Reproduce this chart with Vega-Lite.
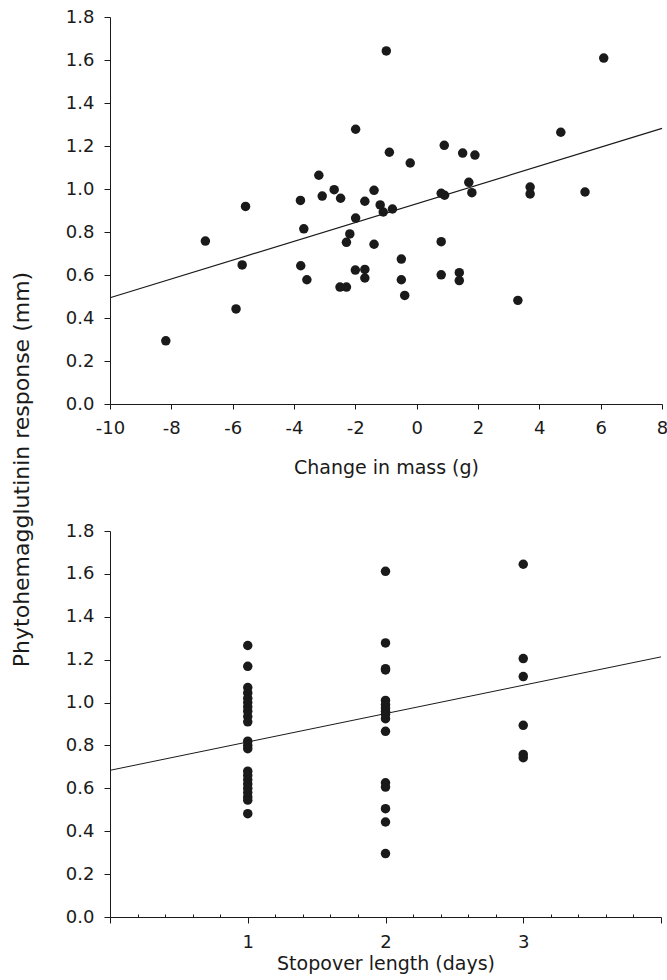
{
  "$schema": "https://vega.github.io/schema/vega-lite/v6.json",
  "background": "white",
  "padding": {"left": 10, "top": 8, "right": 5, "bottom": 5},
  "datasets": {
    "mass": [
      {"mass": -8.18, "pha": 0.294}, {"mass": -6.89, "pha": 0.758}, {"mass": -5.89, "pha": 0.442},
      {"mass": -5.69, "pha": 0.647}, {"mass": -5.58, "pha": 0.919}, {"mass": -3.79, "pha": 0.947},
      {"mass": -3.78, "pha": 0.643}, {"mass": -3.68, "pha": 0.815}, {"mass": -3.58, "pha": 0.578},
      {"mass": -3.19, "pha": 1.064}, {"mass": -3.08, "pha": 0.967}, {"mass": -2.69, "pha": 0.997},
      {"mass": -2.48, "pha": 0.957}, {"mass": -2.5, "pha": 0.544}, {"mass": -2.29, "pha": 0.544},
      {"mass": -2.29, "pha": 0.752}, {"mass": -2.18, "pha": 0.791}, {"mass": -1.99, "pha": 1.278},
      {"mass": -1.99, "pha": 0.865}, {"mass": -2.0, "pha": 0.623}, {"mass": -1.69, "pha": 0.943},
      {"mass": -1.69, "pha": 0.626}, {"mass": -1.69, "pha": 0.586}, {"mass": -1.39, "pha": 0.994},
      {"mass": -1.39, "pha": 0.743}, {"mass": -1.19, "pha": 0.926}, {"mass": -0.99, "pha": 1.642},
      {"mass": 6.1, "pha": 1.609}, {"mass": 4.7, "pha": 1.264}, {"mass": 0.9, "pha": 1.203},
      {"mass": -0.89, "pha": 1.171}, {"mass": 1.5, "pha": 1.167}, {"mass": 1.9, "pha": 1.158},
      {"mass": -0.21, "pha": 1.121}, {"mass": 1.7, "pha": 1.031}, {"mass": -1.09, "pha": 0.893},
      {"mass": -0.79, "pha": 0.907}, {"mass": 0.8, "pha": 0.98}, {"mass": 0.91, "pha": 0.971},
      {"mass": 1.8, "pha": 0.983}, {"mass": 3.7, "pha": 1.009}, {"mass": 3.7, "pha": 0.977},
      {"mass": 5.49, "pha": 0.986}, {"mass": 0.8, "pha": 0.755}, {"mass": -0.5, "pha": 0.674},
      {"mass": -0.5, "pha": 0.578}, {"mass": -0.39, "pha": 0.505}, {"mass": 0.8, "pha": 0.601},
      {"mass": 1.39, "pha": 0.611}, {"mass": 1.39, "pha": 0.574}, {"mass": 3.3, "pha": 0.482}
    ],
    "fit1": [{"mass": -10, "pha": 0.494}, {"mass": 8, "pha": 1.282}],
    "stop": [
      {"days": 1, "pha": 1.266}, {"days": 1, "pha": 1.169}, {"days": 1, "pha": 1.07}, {"days": 1, "pha": 1.045},
      {"days": 1, "pha": 1.02}, {"days": 1, "pha": 1.0}, {"days": 1, "pha": 0.98}, {"days": 1, "pha": 0.96},
      {"days": 1, "pha": 0.935}, {"days": 1, "pha": 0.91}, {"days": 1, "pha": 0.82}, {"days": 1, "pha": 0.8},
      {"days": 1, "pha": 0.785}, {"days": 1, "pha": 0.68}, {"days": 1, "pha": 0.66}, {"days": 1, "pha": 0.64},
      {"days": 1, "pha": 0.62}, {"days": 1, "pha": 0.6}, {"days": 1, "pha": 0.58}, {"days": 1, "pha": 0.56},
      {"days": 1, "pha": 0.545}, {"days": 1, "pha": 0.482},
      {"days": 2, "pha": 1.612}, {"days": 2, "pha": 1.278}, {"days": 2, "pha": 1.158}, {"days": 2, "pha": 1.152},
      {"days": 2, "pha": 1.01}, {"days": 2, "pha": 0.99}, {"days": 2, "pha": 0.975}, {"days": 2, "pha": 0.96},
      {"days": 2, "pha": 0.945}, {"days": 2, "pha": 0.925}, {"days": 2, "pha": 0.866}, {"days": 2, "pha": 0.626},
      {"days": 2, "pha": 0.606}, {"days": 2, "pha": 0.505}, {"days": 2, "pha": 0.443}, {"days": 2, "pha": 0.296},
      {"days": 3, "pha": 1.645}, {"days": 3, "pha": 1.205}, {"days": 3, "pha": 1.121}, {"days": 3, "pha": 0.894},
      {"days": 3, "pha": 0.758}, {"days": 3, "pha": 0.743}
    ],
    "fit2": [{"days": 0, "pha": 0.684}, {"days": 4, "pha": 1.213}]
  },
  "vconcat": [
    {
      "width": 552,
      "height": 387,
      "layer": [
        {
          "data": {"name": "fit1"},
          "mark": {"type": "line", "color": "#1a1a1a", "strokeWidth": 1.2},
          "encoding": {
            "x": {"field": "mass", "type": "quantitative"},
            "y": {"field": "pha", "type": "quantitative"}
          }
        },
        {
          "data": {"name": "mass"},
          "mark": {"type": "circle", "size": 90, "color": "#1a1a1a", "opacity": 1},
          "encoding": {
            "x": {
              "field": "mass", "type": "quantitative",
              "scale": {"domain": [-10, 8], "nice": false, "zero": false},
              "axis": {
                "title": "Change in mass (g)",
                "values": [-10, -8, -6, -4, -2, 0, 2, 4, 6, 8],
                "labelExpr": "replace(datum.label, '\u2212', '-')",
                "labelOverlap": false,
                "tickSize": 5, "labelPadding": 10, "titlePadding": 21
              }
            },
            "y": {
              "field": "pha", "type": "quantitative",
              "scale": {"domain": [0, 1.8], "nice": false},
              "axis": {
                "title": "Phytohemagglutinin response (mm)",
                "titleFontSize": 22,
                "values": [0, 0.2, 0.4, 0.6, 0.8, 1.0, 1.2, 1.4, 1.6, 1.8],
                "format": ".1f", "tickSize": 6, "labelPadding": 10, "labelOverlap": false,
                "titleX": -82, "titleY": 452, "titleBaseline": "alphabetic", "titleAngle": -90, "titleAlign": "center"
              }
            }
          }
        }
      ]
    },
    {
      "width": 551,
      "height": 386,
      "resolve": {"axis": {"x": "independent"}},
      "layer": [
        {
          "data": {"name": "fit2"},
          "mark": {"type": "line", "color": "#1a1a1a", "strokeWidth": 1},
          "encoding": {
            "x": {
              "field": "days", "type": "quantitative",
              "axis": {
                "orient": "bottom", "title": null, "domain": false, "labels": false,
                "values": [0.2, 0.4, 0.6, 0.8, 1.2, 1.4, 1.6, 1.8, 2.2, 2.4, 2.6, 2.8, 3.2, 3.4, 3.6, 3.8],
                "tickSize": -3
              }
            },
            "y": {"field": "pha", "type": "quantitative"}
          }
        },
        {
          "data": {"name": "stop"},
          "mark": {"type": "circle", "size": 90, "color": "#1a1a1a", "opacity": 1},
          "encoding": {
            "x": {
              "field": "days", "type": "quantitative",
              "scale": {"domain": [0, 4], "nice": false},
              "axis": {
                "orient": "bottom",
                "title": "Stopover length (days)",
                "values": [0, 1, 2, 3, 4],
                "labelExpr": "datum.value == 1 ? '1' : datum.value == 2 ? '2' : datum.value == 3 ? '3' : ''",
                "labelOverlap": false,
                "tickSize": 6,
                "labelPadding": 10, "titlePadding": 3
              }
            },
            "y": {
              "field": "pha", "type": "quantitative",
              "scale": {"domain": [0, 1.8], "nice": false},
              "axis": {"title": null, "values": [0, 0.2, 0.4, 0.6, 0.8, 1.0, 1.2, 1.4, 1.6, 1.8], "format": ".1f", "tickSize": 6, "labelPadding": 10, "labelOverlap": false}
            }
          }
        }
      ]
    }
  ],
  "spacing": 127,
  "bounds": "flush",
  "config": {
    "view": {"stroke": null},
    "axis": {
      "grid": false,
      "labelFont": "DejaVu Sans",
      "labelFontSize": 18,
      "labelColor": "#1a1a1a",
      "titleFont": "DejaVu Sans",
      "titleFontSize": 19,
      "titleFontWeight": "normal",
      "titleColor": "#1a1a1a",
      "domainColor": "#1a1a1a",
      "tickColor": "#1a1a1a",
      "domainWidth": 1,
      "tickWidth": 1,
      "labelFlush": false,
      "labelOverlap": false
    }
  }
}
